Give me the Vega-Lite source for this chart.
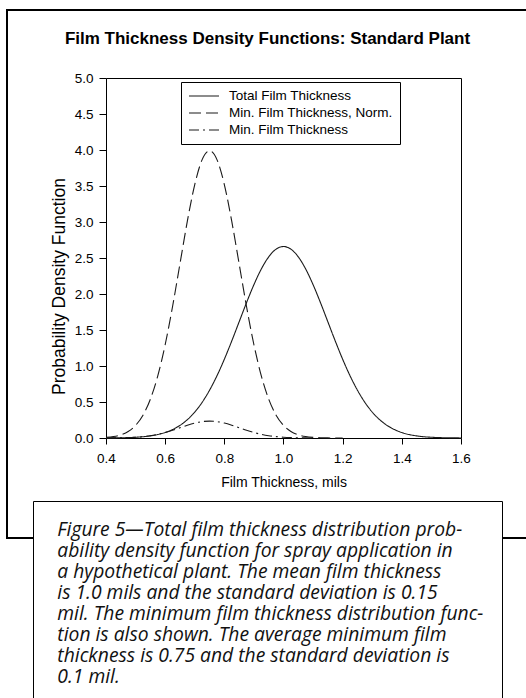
{
  "$schema": "https://vega.github.io/schema/vega-lite/v6.json",
  "background": "white",
  "autosize": {"type": "none"},
  "padding": {"left": 7, "top": 10, "right": -2, "bottom": 160},
  "width": 521,
  "height": 528,
  "view": {"stroke": "black", "strokeWidth": 2, "fill": "white"},
  "config": {
    "font": "Liberation Sans",
    "axis": {"grid": false, "domainColor": "black", "tickColor": "black", "labelColor": "black", "titleColor": "black", "labelFont": "Liberation Sans", "titleFont": "Liberation Sans", "labelFlush": false, "labelOverlap": false, "domainWidth": 1, "tickWidth": 1}
  },
  "title": {"text": "Film Thickness Density Functions: Standard Plant", "fontSize": 17, "fontWeight": "bold", "font": "Liberation Sans", "color": "black", "anchor": "middle", "frame": "group", "offset": -51, "baseline": "alphabetic"},
  "data": {"values": [
    {"series": "Total Film Thickness", "thickness": 0.4, "density": 0.0009},
    {"series": "Total Film Thickness", "thickness": 0.425, "density": 0.0017},
    {"series": "Total Film Thickness", "thickness": 0.45, "density": 0.0032},
    {"series": "Total Film Thickness", "thickness": 0.475, "density": 0.0058},
    {"series": "Total Film Thickness", "thickness": 0.5, "density": 0.0103},
    {"series": "Total Film Thickness", "thickness": 0.525, "density": 0.0177},
    {"series": "Total Film Thickness", "thickness": 0.55, "density": 0.0295},
    {"series": "Total Film Thickness", "thickness": 0.575, "density": 0.048},
    {"series": "Total Film Thickness", "thickness": 0.6, "density": 0.076},
    {"series": "Total Film Thickness", "thickness": 0.625, "density": 0.1169},
    {"series": "Total Film Thickness", "thickness": 0.65, "density": 0.1748},
    {"series": "Total Film Thickness", "thickness": 0.675, "density": 0.2544},
    {"series": "Total Film Thickness", "thickness": 0.7, "density": 0.3599},
    {"series": "Total Film Thickness", "thickness": 0.725, "density": 0.4954},
    {"series": "Total Film Thickness", "thickness": 0.75, "density": 0.6632},
    {"series": "Total Film Thickness", "thickness": 0.775, "density": 0.8634},
    {"series": "Total Film Thickness", "thickness": 0.8, "density": 1.0934},
    {"series": "Total Film Thickness", "thickness": 0.825, "density": 1.3467},
    {"series": "Total Film Thickness", "thickness": 0.85, "density": 1.6131},
    {"series": "Total Film Thickness", "thickness": 0.875, "density": 1.8794},
    {"series": "Total Film Thickness", "thickness": 0.9, "density": 2.1296},
    {"series": "Total Film Thickness", "thickness": 0.925, "density": 2.3471},
    {"series": "Total Film Thickness", "thickness": 0.95, "density": 2.5159},
    {"series": "Total Film Thickness", "thickness": 0.975, "density": 2.6229},
    {"series": "Total Film Thickness", "thickness": 1.0, "density": 2.6596},
    {"series": "Total Film Thickness", "thickness": 1.025, "density": 2.6229},
    {"series": "Total Film Thickness", "thickness": 1.05, "density": 2.5159},
    {"series": "Total Film Thickness", "thickness": 1.075, "density": 2.3471},
    {"series": "Total Film Thickness", "thickness": 1.1, "density": 2.1296},
    {"series": "Total Film Thickness", "thickness": 1.125, "density": 1.8794},
    {"series": "Total Film Thickness", "thickness": 1.15, "density": 1.6131},
    {"series": "Total Film Thickness", "thickness": 1.175, "density": 1.3467},
    {"series": "Total Film Thickness", "thickness": 1.2, "density": 1.0934},
    {"series": "Total Film Thickness", "thickness": 1.225, "density": 0.8634},
    {"series": "Total Film Thickness", "thickness": 1.25, "density": 0.6632},
    {"series": "Total Film Thickness", "thickness": 1.275, "density": 0.4954},
    {"series": "Total Film Thickness", "thickness": 1.3, "density": 0.3599},
    {"series": "Total Film Thickness", "thickness": 1.325, "density": 0.2544},
    {"series": "Total Film Thickness", "thickness": 1.35, "density": 0.1748},
    {"series": "Total Film Thickness", "thickness": 1.375, "density": 0.1169},
    {"series": "Total Film Thickness", "thickness": 1.4, "density": 0.076},
    {"series": "Total Film Thickness", "thickness": 1.425, "density": 0.048},
    {"series": "Total Film Thickness", "thickness": 1.45, "density": 0.0295},
    {"series": "Total Film Thickness", "thickness": 1.475, "density": 0.0177},
    {"series": "Total Film Thickness", "thickness": 1.5, "density": 0.0103},
    {"series": "Total Film Thickness", "thickness": 1.525, "density": 0.0058},
    {"series": "Total Film Thickness", "thickness": 1.55, "density": 0.0032},
    {"series": "Total Film Thickness", "thickness": 1.575, "density": 0.0017},
    {"series": "Total Film Thickness", "thickness": 1.6, "density": 0.0009},
    {"series": "Min. Film Thickness, Norm.", "thickness": 0.4, "density": 0.0087},
    {"series": "Min. Film Thickness, Norm.", "thickness": 0.425, "density": 0.0203},
    {"series": "Min. Film Thickness, Norm.", "thickness": 0.45, "density": 0.0443},
    {"series": "Min. Film Thickness, Norm.", "thickness": 0.475, "density": 0.0909},
    {"series": "Min. Film Thickness, Norm.", "thickness": 0.5, "density": 0.1753},
    {"series": "Min. Film Thickness, Norm.", "thickness": 0.525, "density": 0.3174},
    {"series": "Min. Film Thickness, Norm.", "thickness": 0.55, "density": 0.5399},
    {"series": "Min. Film Thickness, Norm.", "thickness": 0.575, "density": 0.8628},
    {"series": "Min. Film Thickness, Norm.", "thickness": 0.6, "density": 1.2952},
    {"series": "Min. Film Thickness, Norm.", "thickness": 0.625, "density": 1.8265},
    {"series": "Min. Film Thickness, Norm.", "thickness": 0.65, "density": 2.4197},
    {"series": "Min. Film Thickness, Norm.", "thickness": 0.675, "density": 3.0114},
    {"series": "Min. Film Thickness, Norm.", "thickness": 0.7, "density": 3.5207},
    {"series": "Min. Film Thickness, Norm.", "thickness": 0.725, "density": 3.8667},
    {"series": "Min. Film Thickness, Norm.", "thickness": 0.75, "density": 3.9894},
    {"series": "Min. Film Thickness, Norm.", "thickness": 0.775, "density": 3.8667},
    {"series": "Min. Film Thickness, Norm.", "thickness": 0.8, "density": 3.5207},
    {"series": "Min. Film Thickness, Norm.", "thickness": 0.825, "density": 3.0114},
    {"series": "Min. Film Thickness, Norm.", "thickness": 0.85, "density": 2.4197},
    {"series": "Min. Film Thickness, Norm.", "thickness": 0.875, "density": 1.8265},
    {"series": "Min. Film Thickness, Norm.", "thickness": 0.9, "density": 1.2952},
    {"series": "Min. Film Thickness, Norm.", "thickness": 0.925, "density": 0.8628},
    {"series": "Min. Film Thickness, Norm.", "thickness": 0.95, "density": 0.5399},
    {"series": "Min. Film Thickness, Norm.", "thickness": 0.975, "density": 0.3174},
    {"series": "Min. Film Thickness, Norm.", "thickness": 1.0, "density": 0.1753},
    {"series": "Min. Film Thickness, Norm.", "thickness": 1.025, "density": 0.0909},
    {"series": "Min. Film Thickness, Norm.", "thickness": 1.05, "density": 0.0443},
    {"series": "Min. Film Thickness, Norm.", "thickness": 1.075, "density": 0.0203},
    {"series": "Min. Film Thickness, Norm.", "thickness": 1.1, "density": 0.0087},
    {"series": "Min. Film Thickness, Norm.", "thickness": 1.125, "density": 0.0035},
    {"series": "Min. Film Thickness, Norm.", "thickness": 1.15, "density": 0.0013},
    {"series": "Min. Film Thickness, Norm.", "thickness": 1.175, "density": 0.0005},
    {"series": "Min. Film Thickness, Norm.", "thickness": 1.2, "density": 0.0002},
    {"series": "Min. Film Thickness", "thickness": 0.4, "density": 0.0005},
    {"series": "Min. Film Thickness", "thickness": 0.425, "density": 0.0012},
    {"series": "Min. Film Thickness", "thickness": 0.45, "density": 0.0026},
    {"series": "Min. Film Thickness", "thickness": 0.475, "density": 0.0054},
    {"series": "Min. Film Thickness", "thickness": 0.5, "density": 0.0103},
    {"series": "Min. Film Thickness", "thickness": 0.525, "density": 0.0187},
    {"series": "Min. Film Thickness", "thickness": 0.55, "density": 0.0318},
    {"series": "Min. Film Thickness", "thickness": 0.575, "density": 0.0508},
    {"series": "Min. Film Thickness", "thickness": 0.6, "density": 0.0763},
    {"series": "Min. Film Thickness", "thickness": 0.625, "density": 0.1076},
    {"series": "Min. Film Thickness", "thickness": 0.65, "density": 0.1425},
    {"series": "Min. Film Thickness", "thickness": 0.675, "density": 0.1774},
    {"series": "Min. Film Thickness", "thickness": 0.7, "density": 0.2074},
    {"series": "Min. Film Thickness", "thickness": 0.725, "density": 0.2277},
    {"series": "Min. Film Thickness", "thickness": 0.75, "density": 0.235},
    {"series": "Min. Film Thickness", "thickness": 0.775, "density": 0.2277},
    {"series": "Min. Film Thickness", "thickness": 0.8, "density": 0.2074},
    {"series": "Min. Film Thickness", "thickness": 0.825, "density": 0.1774},
    {"series": "Min. Film Thickness", "thickness": 0.85, "density": 0.1425},
    {"series": "Min. Film Thickness", "thickness": 0.875, "density": 0.1076},
    {"series": "Min. Film Thickness", "thickness": 0.9, "density": 0.0763},
    {"series": "Min. Film Thickness", "thickness": 0.925, "density": 0.0508},
    {"series": "Min. Film Thickness", "thickness": 0.95, "density": 0.0318},
    {"series": "Min. Film Thickness", "thickness": 0.975, "density": 0.0187},
    {"series": "Min. Film Thickness", "thickness": 1.0, "density": 0.0103},
    {"series": "Min. Film Thickness", "thickness": 1.025, "density": 0.0054},
    {"series": "Min. Film Thickness", "thickness": 1.05, "density": 0.0026},
    {"series": "Min. Film Thickness", "thickness": 1.075, "density": 0.0012},
    {"series": "Min. Film Thickness", "thickness": 1.1, "density": 0.0005}
  ]},
  "layer": [
    {
      "transform": [{"filter": "datum.series === 'Total Film Thickness'"}],
      "mark": {"type": "line", "interpolate": "monotone", "color": "#1a1a1a", "strokeWidth": 1.1},
      "encoding": {
        "x": {"field": "thickness", "type": "quantitative",
          "scale": {"domain": [0.4, 1.6], "range": [99, 454], "nice": false, "zero": false},
          "axis": {"orient": "bottom", "offset": -100, "values": [0.4, 0.6, 0.8, 1.0, 1.2, 1.4, 1.6], "format": ".1f", "tickSize": 6, "labelPadding": 7, "labelFontSize": 13.5, "title": "Film Thickness, mils", "titleFontSize": 14, "titleFontWeight": "normal", "titlePadding": 11}},
        "y": {"field": "density", "type": "quantitative",
          "scale": {"domain": [0, 5], "range": [428, 68], "nice": false, "zero": false},
          "axis": {"orient": "left", "offset": -99, "values": [0, 0.5, 1, 1.5, 2, 2.5, 3, 3.5, 4, 4.5, 5], "format": ".1f", "tickSize": 7, "labelPadding": 6, "labelFontSize": 13.5, "title": "Probability Density Function", "titleFontSize": 17.5, "titleFontWeight": "normal", "titlePadding": 6, "titleY": 276}},
        "strokeDash": {"field": "series", "type": "nominal",
          "scale": {"domain": ["Total Film Thickness", "Min. Film Thickness, Norm.", "Min. Film Thickness"], "range": [[1, 0], [12, 5], [10, 4, 2, 4]]},
          "legend": {"orient": "none", "legendX": 174, "legendY": 72, "title": null, "symbolType": "stroke", "symbolSize": 900, "symbolStrokeWidth": 1.1, "symbolStrokeColor": "#1a1a1a", "labelFontSize": 13.5, "labelFont": "Liberation Sans", "labelColor": "black", "labelOffset": 9, "padding": 7, "rowPadding": 3, "clipHeight": 14, "strokeColor": "black", "fillColor": "white", "labelLimit": 300}}
      }
    },
    {
      "transform": [{"filter": "datum.series !== 'Total Film Thickness'"}],
      "mark": {"type": "line", "interpolate": "monotone", "color": "#1a1a1a", "strokeWidth": 1.1},
      "encoding": {
        "x": {"field": "thickness", "type": "quantitative",
          "scale": {"domain": [0.4, 1.6], "range": [99, 454], "nice": false, "zero": false},
          "axis": {"orient": "top", "offset": -68, "labels": false, "ticks": false, "title": null}},
        "y": {"field": "density", "type": "quantitative",
          "scale": {"domain": [0, 5], "range": [428, 68], "nice": false, "zero": false},
          "axis": {"orient": "right", "offset": -67, "labels": false, "ticks": false, "title": null}},
        "strokeDash": {"field": "series", "type": "nominal",
          "scale": {"domain": ["Total Film Thickness", "Min. Film Thickness, Norm.", "Min. Film Thickness"], "range": [[1, 0], [12, 5], [10, 4, 2, 4]]}}
      }
    },
    {
      "data": {"values": [
        {"line": 1, "text": "Figure 5—Total film thickness distribution prob-"},
        {"line": 2, "text": "ability density function for spray application in"},
        {"line": 3, "text": "a hypothetical plant. The mean film thickness"},
        {"line": 4, "text": "is 1.0 mils and the standard deviation is 0.15"},
        {"line": 5, "text": "mil. The minimum film thickness distribution func-"},
        {"line": 6, "text": "tion is also shown. The average minimum film"},
        {"line": 7, "text": "thickness is 0.75 and the standard deviation is"},
        {"line": 8, "text": "0.1 mil."}
      ]},
      "mark": {"type": "point", "opacity": 0},
      "encoding": {
        "shape": {"field": "text", "type": "nominal", "sort": {"field": "line", "op": "min"},
          "legend": {"orient": "none", "legendX": 26, "legendY": 491, "title": null, "direction": "vertical", "symbolSize": 0, "symbolOpacity": 0, "labelFont": "Open Sans", "labelFontStyle": "italic", "labelFontSize": 19.3, "labelColor": "#111111", "labelOffset": -13, "labelLimit": 700, "padding": 18, "rowPadding": 0, "clipHeight": 21, "strokeColor": "black", "fillColor": "white",
            "encode": {"legend": {"update": {"strokeWidth": {"value": 2}}}}}}
      }
    }
  ],
  "resolve": {"axis": {"x": "independent", "y": "independent"}}
}
